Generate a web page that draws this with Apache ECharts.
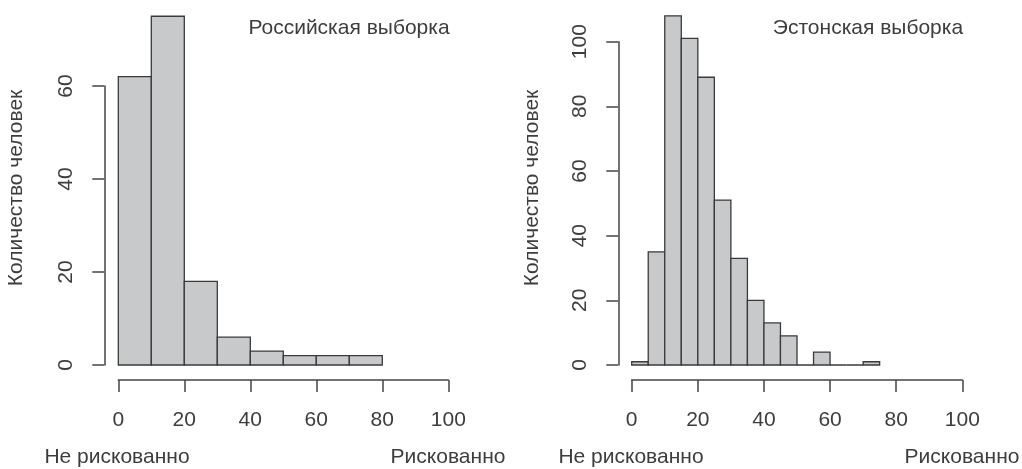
<!DOCTYPE html>
<html>
<head>
<meta charset="utf-8">
<script src="https://cdn.jsdelivr.net/npm/echarts@6/dist/echarts.min.js"></script>
<style>
html,body{margin:0;padding:0;background:#fff;}
#chart{width:1022px;height:469px;}
</style>
</head>
<body>
<div id="chart"></div>
<script>
// Data
const rusBinStarts = [0, 10, 20, 30, 40, 50, 60, 70];
const rusBinWidth = 10;
const rusCounts = [62, 75, 18, 6, 3, 2, 2, 2];

const estBinStarts = [0, 5, 10, 15, 20, 25, 30, 35, 40, 45, 50, 55, 60, 65, 70];
const estBinWidth = 5;
const estCounts = [1, 35, 108, 101, 89, 51, 33, 20, 13, 9, 0, 4, 0, 0, 1];

const rusTitle = 'Российская выборка';
const estTitle = 'Эстонская выборка';
const yName = 'Количество человек';
const leftLabel = 'Не рискованно';
const rightLabel = 'Рискованно';

const FONT = '"Liberation Sans", Arial, sans-serif';
const FS = 21;
const TXT = '#3d3d3d';
const LINE = '#444444';
const FILL = '#c8c9cb';

function toBins(starts, width, counts) {
  return starts.map((s, i) => [s, s + width, counts[i]]);
}

function renderBar(params, api) {
  const p0 = api.coord([api.value(0), 0]);
  const p1 = api.coord([api.value(1), api.value(2)]);
  return {
    type: 'rect',
    shape: { x: p0[0], y: p1[1], width: p1[0] - p0[0], height: p0[1] - p1[1] },
    style: { fill: FILL, stroke: '#3a3a3a', lineWidth: 1.3 }
  };
}

function xAxisCfg(gi) {
  return {
    gridIndex: gi, type: 'value', min: 0, max: 100, interval: 20,
    position: 'bottom', offset: 15,
    axisLine: { show: true, onZero: false, lineStyle: { color: LINE, width: 1.5 } },
    axisTick: { show: true, inside: false, length: 12, lineStyle: { color: LINE, width: 1.5 } },
    axisLabel: { show: true, margin: 29.5, fontFamily: FONT, fontSize: FS, color: TXT },
    splitLine: { show: false }
  };
}
function yAxisCfg(gi, max, off) {
  return {
    gridIndex: gi, type: 'value', min: 0, max: max, interval: 20,
    position: 'left', offset: off,
    axisLine: { show: true, onZero: false, lineStyle: { color: LINE, width: 1.5 } },
    axisTick: { show: true, inside: false, length: 12, lineStyle: { color: LINE, width: 1.5 } },
    axisLabel: { show: true, rotate: 90, margin: 28, fontFamily: FONT, fontSize: FS, color: TXT },
    splitLine: { show: false }
  };
}
function txt(x, y, text, rot) {
  return {
    type: 'text', x: x, y: y, rotation: rot || 0,
    style: { text: text, fontFamily: FONT, fontSize: FS, fill: TXT, align: 'center', verticalAlign: 'middle' }
  };
}

const chart = echarts.init(document.getElementById('chart'), null, { renderer: 'canvas' });
chart.setOption({
  animation: false,
  backgroundColor: '#fff',
  grid: [
    { left: 118.3, top: 86, width: 330, height: 279 },
    { left: 631.7, top: 41.7, width: 330.6, height: 323.3 }
  ],
  xAxis: [xAxisCfg(0), xAxisCfg(1)],
  yAxis: [yAxisCfg(0, 60, 14), yAxisCfg(1, 100, 13.4)],
  series: [
    { type: 'custom', xAxisIndex: 0, yAxisIndex: 0, clip: false, renderItem: renderBar,
      encode: { x: [0, 1], y: 2 }, data: toBins(rusBinStarts, rusBinWidth, rusCounts) },
    { type: 'custom', xAxisIndex: 1, yAxisIndex: 1, clip: false, renderItem: renderBar,
      encode: { x: [0, 1], y: 2 }, data: toBins(estBinStarts, estBinWidth, estCounts) }
  ],
  graphic: [
    txt(349, 28, rusTitle),
    txt(868, 28, estTitle),
    txt(16, 188, yName, Math.PI / 2),
    txt(532, 188, yName, Math.PI / 2),
    txt(117, 457, leftLabel),
    txt(448, 457, rightLabel),
    txt(631, 457, leftLabel),
    txt(962, 457, rightLabel)
  ]
});
</script>
</body>
</html>
